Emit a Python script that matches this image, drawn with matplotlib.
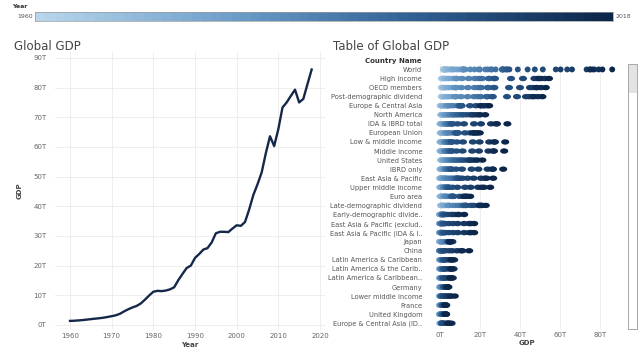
import numpy as np
import matplotlib
matplotlib.use("Agg")
import matplotlib.pyplot as plt
from matplotlib.colors import LinearSegmentedColormap
from matplotlib.patches import Rectangle
from matplotlib.path import Path
from matplotlib.ticker import FuncFormatter

# Global GDP per year, trillions
YEARS = list(range(1960, 2019))
WORLD_GDP = [1.37, 1.42, 1.53, 1.64, 1.80, 1.96, 2.12, 2.26, 2.44, 2.68,
             2.96, 3.26, 3.77, 4.59, 5.30, 5.90, 6.42, 7.26, 8.54, 9.93,
             11.2, 11.5, 11.4, 11.6, 12.0, 12.7, 15.1, 17.2, 19.2, 20.0,
             22.6, 23.9, 25.4, 25.9, 27.8, 30.9, 31.4, 31.4, 31.3, 32.5,
             33.6, 33.4, 34.7, 38.9, 43.8, 47.4, 51.4, 57.9, 63.6, 60.3,
             66.0, 73.3, 75.0, 77.2, 79.3, 75.0, 76.2, 81.2, 86.1]

# Table of Global GDP: the other rows, every second year 1960..2018
TABLE_YEARS = [1960, 1962, 1964, 1966, 1968, 1970, 1972, 1974, 1976, 1978,
               1980, 1982, 1984, 1986, 1988, 1990, 1992, 1994, 1996, 1998,
               2000, 2002, 2004, 2006, 2008, 2010, 2012, 2014, 2016, 2018]

COUNTRIES = ["World", "High income", "OECD members", "Post-demographic dividend",
             "Europe & Central Asia", "North America", "IDA & IBRD total",
             "European Union", "Low & middle income", "Middle income",
             "United States", "IBRD only", "East Asia & Pacific",
             "Upper middle income", "Euro area", "Late-demographic dividend",
             "Early-demographic divide..", "East Asia & Pacific (exclud..",
             "East Asia & Pacific (IDA & I..", "Japan", "China",
             "Latin America & Caribbean", "Latin America & the Carib..",
             "Latin America & Caribbean..", "Germany", "Lower middle income",
             "France", "United Kingdom", "Europe & Central Asia (ID.."]

high_income = [0.9, 1.05, 1.25, 1.5, 1.75, 2.2, 2.8, 3.8, 4.5, 6.3, 8.0, 7.9, 8.3, 11.0, 14.4,
               17.5, 19.5, 21.0, 24.5, 24.5, 27.0, 27.5, 35.5, 41.5, 48.7, 47.2, 50.6, 52.4, 49.5, 54.5]
oecd = [0.9, 1.0, 1.2, 1.45, 1.7, 2.1, 2.7, 3.7, 4.4, 6.1, 7.8, 7.7, 8.1, 10.7, 14.0,
        17.3, 19.2, 20.6, 24.0, 24.0, 26.8, 27.2, 34.5, 40.0, 46.5, 45.0, 48.0, 50.5, 48.5, 52.9]
post_dem = [0.85, 0.98, 1.15, 1.4, 1.65, 2.0, 2.6, 3.6, 4.3, 5.9, 7.5, 7.5, 7.9, 10.5, 13.8,
            17.0, 18.9, 20.3, 23.5, 23.4, 26.0, 26.4, 33.5, 38.5, 44.5, 43.0, 46.0, 49.0, 47.0, 51.2]
europe_ca = [0.4, 0.45, 0.55, 0.65, 0.75, 0.9, 1.2, 1.8, 2.3, 3.2, 4.2, 3.9, 3.7, 5.2, 6.6,
             8.8, 9.5, 9.3, 10.8, 10.6, 10.0, 10.6, 15.0, 18.0, 22.0, 20.5, 22.0, 23.8, 20.3, 24.6]
north_america = [0.6, 0.65, 0.75, 0.9, 1.0, 1.1, 1.35, 1.6, 1.95, 2.5, 3.1, 3.6, 4.2, 4.8, 5.5,
                 6.5, 6.9, 7.7, 8.7, 9.6, 10.9, 11.5, 13.1, 14.9, 16.1, 16.6, 17.9, 19.3, 20.1, 22.6]
ida_ibrd = [0.3, 0.33, 0.38, 0.45, 0.5, 0.6, 0.7, 1.0, 1.3, 1.8, 2.8, 2.8, 2.7, 2.8, 3.3,
            3.9, 4.3, 4.5, 5.5, 5.6, 6.2, 6.2, 8.8, 12.0, 17.0, 20.5, 25.5, 28.5, 28.0, 33.7]
eu = [0.35, 0.4, 0.48, 0.56, 0.66, 0.8, 1.05, 1.55, 2.0, 2.8, 3.7, 3.4, 3.2, 4.4, 5.6,
      7.3, 8.0, 7.7, 9.0, 8.8, 8.0, 8.6, 12.5, 15.0, 18.5, 16.9, 17.3, 18.6, 16.5, 19.9]
low_middle = [0.3, 0.33, 0.37, 0.44, 0.5, 0.6, 0.7, 1.0, 1.25, 1.75, 2.7, 2.7, 2.6, 2.7, 3.2,
              3.7, 4.1, 4.3, 5.3, 5.4, 5.9, 5.9, 8.4, 11.5, 16.4, 19.8, 24.6, 27.5, 27.0, 32.6]
middle = [0.3, 0.32, 0.36, 0.43, 0.48, 0.55, 0.68, 0.98, 1.22, 1.7, 2.6, 2.6, 2.55, 2.65, 3.1,
          3.6, 4.0, 4.2, 5.2, 5.3, 5.8, 5.8, 8.2, 11.3, 16.1, 19.5, 24.2, 27.0, 26.6, 32.1]
usa = [0.54, 0.61, 0.69, 0.81, 0.94, 1.07, 1.28, 1.55, 1.87, 2.36, 2.86, 3.35, 4.04, 4.58, 5.24,
       5.96, 6.52, 7.29, 8.07, 9.09, 10.25, 10.98, 12.27, 13.81, 14.71, 15.0, 16.2, 17.52, 18.7, 21.2]
ibrd = [0.3, 0.32, 0.35, 0.42, 0.47, 0.55, 0.66, 0.95, 1.2, 1.65, 2.6, 2.55, 2.5, 2.6, 3.05,
        3.5, 3.9, 4.1, 5.1, 5.2, 5.7, 5.7, 8.0, 11.0, 15.8, 19.2, 23.8, 26.5, 26.2, 31.6]
east_asia = [0.15, 0.17, 0.2, 0.25, 0.3, 0.4, 0.55, 0.75, 1.0, 1.5, 2.0, 2.4, 2.6, 3.4, 4.4,
             5.5, 6.5, 7.7, 8.8, 8.0, 8.8, 9.0, 10.0, 11.2, 13.8, 16.8, 20.5, 22.5, 23.3, 26.6]
upper_middle = [0.2, 0.22, 0.25, 0.3, 0.34, 0.4, 0.5, 0.72, 0.9, 1.3, 2.0, 2.0, 1.95, 2.0, 2.4,
                2.8, 3.1, 3.2, 4.0, 4.0, 4.4, 4.4, 6.2, 8.7, 12.5, 15.3, 19.0, 22.0, 20.8, 25.1]
euro_area = [0.3, 0.34, 0.4, 0.47, 0.55, 0.65, 0.85, 1.25, 1.6, 2.2, 2.8, 2.6, 2.4, 3.3, 4.2,
             5.3, 5.8, 5.6, 6.6, 6.5, 6.2, 6.7, 9.8, 11.2, 13.7, 12.6, 12.7, 13.5, 12.1, 15.1]
late_dem = [0.5, 0.55, 0.62, 0.72, 0.85, 1.1, 1.4, 1.95, 2.4, 3.4, 4.2, 4.3, 4.6, 6.3, 8.0,
            9.5, 10.8, 11.6, 13.0, 12.0, 13.0, 12.7, 15.5, 16.8, 19.5, 19.5, 20.8, 21.0, 20.1, 22.9]
early_dem = [0.1, 0.11, 0.13, 0.15, 0.17, 0.2, 0.24, 0.33, 0.45, 0.65, 1.0, 1.0, 0.95, 1.0, 1.15,
             1.3, 1.4, 1.6, 1.9, 2.0, 2.2, 2.2, 3.0, 4.0, 5.6, 6.4, 7.8, 9.0, 9.4, 12.1]
eap_excl = [0.06, 0.065, 0.07, 0.08, 0.1, 0.12, 0.15, 0.2, 0.28, 0.38, 0.5, 0.52, 0.55, 0.58, 0.68,
            0.8, 1.0, 1.35, 1.7, 1.5, 1.9, 2.1, 3.0, 4.5, 6.5, 8.8, 12.0, 14.6, 15.3, 17.1]
eap_ida = [0.06, 0.065, 0.07, 0.08, 0.1, 0.12, 0.15, 0.21, 0.29, 0.39, 0.51, 0.53, 0.56, 0.59, 0.7,
           0.82, 1.02, 1.38, 1.73, 1.53, 1.95, 2.15, 3.05, 4.55, 6.6, 8.9, 12.1, 14.7, 15.4, 17.1]
japan = [0.04, 0.06, 0.08, 0.11, 0.15, 0.21, 0.31, 0.47, 0.58, 1.0, 1.1, 1.18, 1.3, 2.1, 3.1,
         3.1, 3.9, 4.9, 5.0, 4.1, 4.9, 4.2, 4.9, 4.6, 5.1, 5.7, 6.2, 4.9, 5.0, 5.0]
china = [0.06, 0.05, 0.06, 0.08, 0.07, 0.09, 0.11, 0.14, 0.15, 0.15, 0.19, 0.2, 0.26, 0.3, 0.31,
         0.36, 0.42, 0.56, 0.86, 1.03, 1.21, 1.47, 1.96, 2.75, 4.6, 6.1, 8.5, 10.5, 11.2, 14.6]
latam = [0.08, 0.09, 0.1, 0.12, 0.14, 0.17, 0.22, 0.3, 0.4, 0.55, 0.78, 0.8, 0.65, 0.75, 0.9,
         1.15, 1.3, 1.7, 2.0, 2.1, 2.2, 1.8, 2.3, 3.3, 4.4, 5.3, 6.4, 7.1, 5.6, 6.0]
latam_the = [0.08, 0.09, 0.1, 0.12, 0.14, 0.16, 0.21, 0.29, 0.39, 0.53, 0.76, 0.78, 0.63, 0.73, 0.87,
             1.12, 1.26, 1.65, 1.95, 2.05, 2.15, 1.75, 2.25, 3.2, 4.3, 5.15, 6.2, 6.8, 5.4, 5.8]
latam_2 = [0.07, 0.08, 0.09, 0.11, 0.13, 0.15, 0.2, 0.27, 0.37, 0.5, 0.72, 0.74, 0.6, 0.69, 0.82,
           1.05, 1.2, 1.56, 1.85, 1.95, 2.05, 1.65, 2.12, 3.0, 4.05, 4.85, 5.9, 6.4, 5.1, 5.5]
germany = [0.1, 0.11, 0.12, 0.14, 0.17, 0.2, 0.3, 0.42, 0.5, 0.74, 0.95, 0.77, 0.7, 0.94, 1.3,
           1.77, 2.12, 2.2, 2.5, 2.24, 1.95, 2.08, 2.82, 3.0, 3.75, 3.42, 3.54, 3.89, 3.47, 4.2]
lower_middle = [0.08, 0.085, 0.09, 0.1, 0.12, 0.15, 0.17, 0.22, 0.3, 0.4, 0.5, 0.53, 0.55, 0.57, 0.65,
                0.75, 0.8, 0.9, 1.05, 1.15, 1.2, 1.35, 1.7, 2.2, 3.0, 3.6, 4.3, 5.0, 5.6, 7.4]
france = [0.06, 0.07, 0.09, 0.1, 0.13, 0.15, 0.2, 0.27, 0.37, 0.5, 0.7, 0.61, 0.53, 0.77, 1.02,
          1.27, 1.41, 1.39, 1.6, 1.5, 1.36, 1.5, 2.12, 2.32, 2.92, 2.64, 2.68, 2.85, 2.47, 3.1]
uk = [0.07, 0.08, 0.09, 0.1, 0.11, 0.13, 0.16, 0.21, 0.23, 0.34, 0.56, 0.51, 0.46, 0.58, 0.91,
      1.09, 1.18, 1.14, 1.32, 1.64, 1.66, 1.78, 2.42, 2.71, 2.93, 2.48, 2.7, 3.06, 2.69, 3.0]
europe_ida = [0.2, 0.22, 0.25, 0.28, 0.32, 0.4, 0.48, 0.6, 0.7, 0.8, 0.9, 0.95, 1.0, 1.1, 1.2,
              1.3, 1.1, 1.0, 1.0, 1.05, 1.1, 1.2, 1.8, 2.6, 3.6, 3.6, 4.7, 5.8, 4.0, 4.8]

TABLE_ROWS = [high_income, oecd, post_dem, europe_ca, north_america, ida_ibrd,
              eu, low_middle, middle, usa, ibrd, east_asia, upper_middle,
              euro_area, late_dem, early_dem, eap_excl, eap_ida, japan, china,
              latam, latam_the, latam_2, germany, lower_middle, france, uk,
              europe_ida]

cmap = LinearSegmentedColormap.from_list(
    "years", ["#b7d6ec", "#6f9fca", "#2f5f93", "#0c264a"])

# slightly wide dot so the every-second-year samples join into a band
circle = Path.unit_circle()
pill = Path(circle.vertices * [1.5, 1.0], circle.codes)

plt.rcParams['font.family'] = ['DejaVu Sans']
fig = plt.figure(figsize=(6.39, 3.52), dpi=100)
W, H = 639, 352


def box(x0, y0, x1, y1):
    # pixel box (top-down) -> figure fractions
    return [x0 / W, 1 - y1 / H, (x1 - x0) / W, (y1 - y0) / H]


# Year colour legend along the top
fig.text(12 / W, 1 - 7 / H, "Year", fontsize=4.5, fontweight="bold",
         color="#333333", va="center")
fig.text(33 / W, 1 - 16.5 / H, "1960", fontsize=4.5, color="#555555",
         va="center", ha="right")
fig.text(616 / W, 1 - 16.5 / H, "2018", fontsize=4.5, color="#555555",
         va="center", ha="left")
cax = fig.add_axes(box(35, 12, 613, 21))
cax.imshow(np.array([YEARS]), aspect="auto", cmap=cmap,
           extent=[YEARS[0], YEARS[-1], 0, 1])
cax.set_xticks([])
cax.set_yticks([])
for s in cax.spines.values():
    s.set_color("#999999")
    s.set_linewidth(0.5)

# Left: line chart
ax = fig.add_axes(box(55, 52, 325, 330))
ax.plot(YEARS, WORLD_GDP, color="#16284a", lw=1.7)
ax.set_xlim(1956.4, 2021.2)
ax.set_ylim(-1.7, 92)
ax.set_xticks(range(1960, 2021, 10))
ax.set_yticks(range(0, 91, 10))
ax.yaxis.set_major_formatter(FuncFormatter(lambda v, p: f"{int(v)}T"))
ax.grid(True, color="#ebebeb", lw=0.6)
ax.set_axisbelow(True)
for s in ax.spines.values():
    s.set_visible(False)
ax.tick_params(axis="y", length=0, labelsize=5, labelcolor="#666666", pad=6)
ax.tick_params(axis="x", length=0, labelsize=5, labelcolor="#666666", pad=2.5)
ax.set_xlabel("Year", fontsize=5, fontweight="bold", color="#444444", labelpad=1.5)
ax.set_ylabel("GDP", fontsize=5, fontweight="bold", color="#444444", labelpad=8)
fig.text(14 / W, 1 - 47 / H, "Global GDP", fontsize=8.5, color="#444444",
         va="center")

# Right: dot table
rx = fig.add_axes(box(432, 64, 622, 328.7))
rx.scatter(WORLD_GDP, [0] * len(YEARS), c=YEARS, cmap=cmap,
           vmin=YEARS[0], vmax=YEARS[-1], s=18, linewidths=0, zorder=3)
for i, vals in enumerate(TABLE_ROWS, start=1):
    rx.scatter(vals, [i] * len(vals), c=TABLE_YEARS, cmap=cmap, marker=pill,
               vmin=YEARS[0], vmax=YEARS[-1], s=34, linewidths=0, zorder=3)
rx.set_xlim(-4, 91)
rx.set_ylim(len(COUNTRIES) - 0.4, -0.6)
rx.set_xticks([0, 20, 40, 60, 80])
rx.xaxis.set_major_formatter(FuncFormatter(lambda v, p: f"{int(v)}T"))
rx.set_yticks(range(len(COUNTRIES)))
rx.set_yticklabels(COUNTRIES)
rx.grid(True, axis="x", color="#ebebeb", lw=0.6)
rx.set_axisbelow(True)
for s in rx.spines.values():
    s.set_visible(False)
rx.tick_params(axis="y", length=0, labelsize=4.8, labelcolor="#555555", pad=7)
rx.tick_params(axis="x", length=0, labelsize=5, labelcolor="#666666", pad=2.5)
rx.set_xlabel("GDP", fontsize=5, fontweight="bold", color="#444444", labelpad=1.5)
fig.text(333 / W, 1 - 47 / H, "Table of Global GDP", fontsize=8.5,
         color="#444444", va="center")
fig.text(422 / W, 1 - 60.5 / H, "Country Name", fontsize=5, fontweight="bold",
         color="#333333", va="center", ha="right")

# scrollbar
fig.patches.append(Rectangle((628 / W, 1 - 329 / H), 9 / W, 265 / H,
                             transform=fig.transFigure, fill=False,
                             edgecolor="#9a9a9a", lw=0.6))
fig.patches.append(Rectangle((628.5 / W, 1 - 93 / H), 8 / W, 28 / H,
                             transform=fig.transFigure, facecolor="#e3e3e3",
                             edgecolor="none"))

fig.savefig("out.png", dpi=100)
